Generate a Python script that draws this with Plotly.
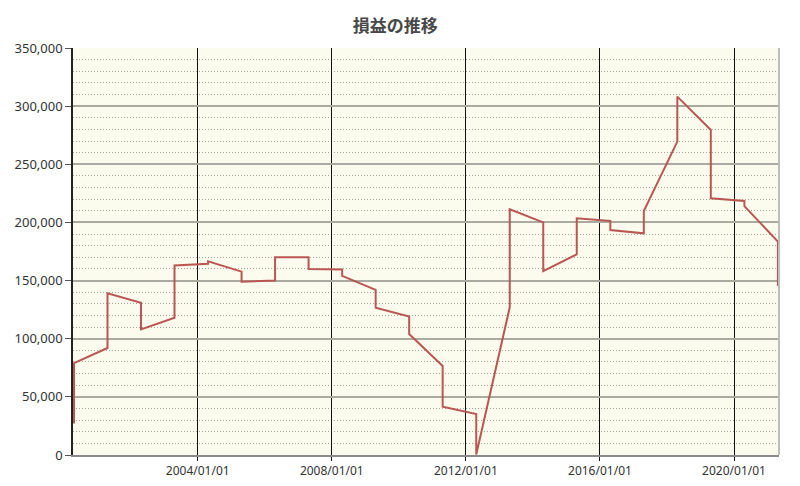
import plotly.graph_objects as go

# Yearly points (approx. late April); each date has a value before and after a jump
years = list(range(2000, 2022))
value_before = [27000, 92000, 131000, 118000, 164500, 157700, 150000, 170000,
                159500, 142000, 119000, 76500, 35300, 127000, 200100, 172600,
                201200, 190600, 269500, 279500, 218400, 183500]
value_after = [79000, 139000, 108000, 163000, 166500, 149000, 170000, 160000,
               154000, 126700, 104000, 41500, 500, 211300, 158200, 203500,
               193500, 209800, 308200, 220700, 214000, 145300]

tick_dates = ["2004-01-01", "2008-01-01", "2012-01-01", "2016-01-01", "2020-01-01"]
tick_labels = ["2004/01/01", "2008/01/01", "2012/01/01", "2016/01/01", "2020/01/01"]

# interleave before/after values on the same date
xs, ys = [], []
for yr, b, a in zip(years, value_before, value_after):
    d = f"{yr}-04-23"
    xs += [d, d]
    ys += [b, a]

fig = go.Figure()
fig.add_trace(go.Scatter(
    x=xs, y=ys, mode="lines",
    line=dict(color="#BA5753", width=2),
    showlegend=False,
))

# the page body adds an 8px offset, so margins are shifted to compensate
fig.update_layout(
    width=800, height=486,
    margin=dict(l=65, r=29, t=40, b=39),
    paper_bgcolor="white",
    plot_bgcolor="#FCFCEE",
    title=dict(text="損益の推移", x=0.484, xanchor="center", y=0.975, yanchor="top",
               font=dict(family="Noto Sans CJK JP", size=17, color="#484848", weight="bold")),
    font=dict(family="Noto Sans", size=12, color="#333333"),
)

fig.update_xaxes(
    type="date",
    range=["2000-04-12", "2021-05-05"],
    tickvals=tick_dates, ticktext=tick_labels,
    showgrid=True, gridcolor="#111111", gridwidth=1,
    showline=True, linecolor="#8A8A8A", linewidth=2,
    ticks="outside", ticklen=4, tickcolor="#111111",
    tickfont=dict(size=12, color="#333333"),
    zeroline=False, automargin=False,
)

fig.update_yaxes(
    range=[0, 350000],
    dtick=50000, tickformat=",",
    showgrid=True, gridcolor="#A9ABA0", gridwidth=1.5,
    minor=dict(dtick=10000, showgrid=True, gridcolor="#A3A59A", griddash="1px,2px", gridwidth=1),
    showline=True, linecolor="#222222", linewidth=1.5,
    ticks="outside", ticklen=6, tickcolor="#555555",
    tickfont=dict(size=13, color="#333333"),
    zeroline=False, automargin=False,
)

# right-hand border of the plot area
fig.add_shape(type="line", xref="paper", yref="paper", x0=1, x1=1, y0=0, y1=1,
              line=dict(color="#BDBDBD", width=2))

fig.write_html("out.html")
